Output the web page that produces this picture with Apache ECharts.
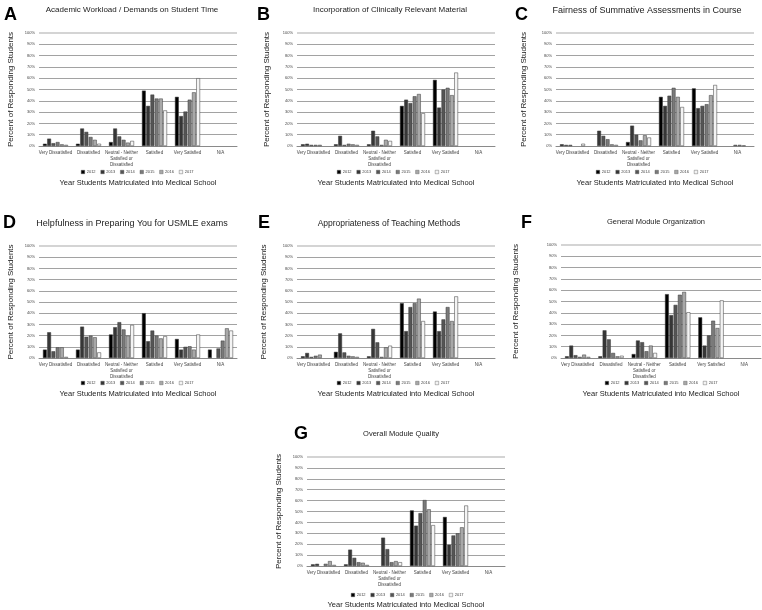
<!DOCTYPE html>
<html><head><meta charset="utf-8">
<script src="https://cdn.jsdelivr.net/npm/echarts@6/dist/echarts.min.js"></script>
<style>html,body{margin:0;padding:0;background:#fff}#c{width:762px;height:610px}</style>
</head><body><div id="c"></div>
<script>
const categories = ["Very Dissatisfied", "Dissatisfied", "Neutral - Neither\nSatisfied or\nDissatisfied", "Satisfied", "Very Satisfied", "N/A"];
const years = ["2012", "2013", "2014", "2015", "2016", "2017"];
const yTicks = [0, 10, 20, 30, 40, 50, 60, 70, 80, 90, 100];
const panelLetters = ["A", "B", "C", "D", "E", "F", "G"];
const panelTitles = [
  "Academic Workload / Demands on Student Time",
  "Incorporation of Clinically Relevant Material",
  "Fairness of Summative Assessments in Course",
  "Helpfulness in Preparing You for USMLE exams",
  "Appropriateness of Teaching Methods",
  "General Module Organization",
  "Overall Module Quality"
];
const yAxisTitle = "Percent of Responding Students";
const xAxisTitle = "Year Students Matriculated into Medical School";

// values per year (rows) across categories (columns), percent
const valuesA = [
  [2, 2, 3.5, 49, 43.5, 0],
  [6.5, 15.5, 15.5, 35.5, 26.5, 0],
  [2.5, 12.5, 8.5, 45.5, 30.5, 0],
  [3.5, 8, 5.5, 42, 41, 0],
  [1.5, 5.5, 3, 42, 47.5, 0],
  [1, 2, 4.5, 31.5, 60, 0]
];
const valuesB = [
  [1.5, 1.5, 1.5, 35.5, 58.5, 0],
  [2, 9, 13.5, 41, 34, 0],
  [1, 1, 8.5, 38, 50, 0],
  [1, 2, 1, 44, 51.5, 0],
  [1, 1.5, 5.5, 46, 45, 0],
  [0, 1, 4.5, 29, 65, 0]
];
const valuesC = [
  [1.5, 0, 3.5, 43.5, 51, 0],
  [1, 13.5, 18, 35.5, 33.5, 0],
  [1, 9, 10, 44.5, 35.5, 1],
  [0, 6, 5, 51.5, 37, 1],
  [0, 1.5, 9.5, 43.5, 45, 0.5],
  [2, 1, 7.5, 34.5, 54, 0]
];
const valuesD = [
  [7.5, 7.5, 21, 40, 17, 7.5],
  [23, 28, 27.5, 15, 7.5, 0],
  [6, 19, 32, 24.5, 10, 8.5],
  [9.5, 20, 25.5, 20, 10.5, 15.5],
  [9.5, 18.5, 20, 17.5, 7.5, 26.5],
  [1, 5, 29.5, 19.5, 21, 24.5]
];
const valuesE = [
  [1.5, 5.5, 1.5, 49, 41.5, 0],
  [4.5, 22, 26, 24, 24, 0],
  [1, 5, 14, 45.5, 34.5, 0],
  [2, 2, 1, 49, 45.5, 0],
  [3, 1.5, 9.5, 53, 33, 0],
  [0, 1, 11, 33, 55, 0]
];
const valuesF = [
  [1.5, 1.5, 3.5, 56.5, 36, 0],
  [11, 24.5, 15.5, 38, 11, 0],
  [2.5, 16.5, 14, 47, 20, 0],
  [1, 4.5, 6, 56, 33, 0],
  [3, 1.5, 11, 58.5, 26.5, 0],
  [1, 2, 4.5, 40.5, 51, 0]
];
const valuesG = [
  [1.5, 1.5, 0, 51, 45, 0],
  [2, 15, 26, 37, 19.5, 0],
  [0, 7.5, 15.5, 48.5, 28, 0],
  [2, 3.5, 3.5, 60.5, 30, 0],
  [4.5, 3, 4.5, 52, 35.5, 0],
  [1, 1, 3.5, 37.5, 55.5, 0]
];
const allValues = [valuesA, valuesB, valuesC, valuesD, valuesE, valuesF, valuesG];

// layout (pixels)
const layout = [
  {left: 39,  top: 33,  width: 198, height: 113, titleX: 132, titleY: 6,   titleSize: 8,   letterX: 4,   letterY: 6,   legendX: 133, legendY: 173, yGap: 24, xGap: 33},
  {left: 297, top: 33,  width: 198, height: 113, titleX: 390, titleY: 6,   titleSize: 8,   letterX: 257, letterY: 6,   legendX: 389, legendY: 173, yGap: 26, xGap: 33},
  {left: 556, top: 33,  width: 198, height: 113, titleX: 647, titleY: 6,   titleSize: 9,   letterX: 515, letterY: 6,   legendX: 648, legendY: 173, yGap: 28, xGap: 33},
  {left: 39,  top: 246, width: 198, height: 112, titleX: 132, titleY: 219, titleSize: 9,   letterX: 3,   letterY: 214, legendX: 133, legendY: 384, yGap: 24, xGap: 32},
  {left: 297, top: 246, width: 198, height: 112, titleX: 389, titleY: 219, titleSize: 8.5, letterX: 258, letterY: 214, legendX: 389, legendY: 384, yGap: 29, xGap: 32},
  {left: 561, top: 245, width: 200, height: 113, titleX: 656, titleY: 218, titleSize: 7.5, letterX: 521, letterY: 214, legendX: 657, legendY: 384, yGap: 41, xGap: 32},
  {left: 307, top: 457, width: 198, height: 112, titleX: 401, titleY: 430, titleSize: 7.5, letterX: 294, letterY: 425, legendX: 403, legendY: 596, yGap: 24, xGap: 35}
];

const colors = ["#000000", "#363636", "#555555", "#7a7a7a", "#a8a8a8", "#f4f4f4"];
const FONT = "Liberation Sans, Arial, sans-serif";

const grid = [], xAxis = [], yAxis = [], series = [], title = [], legend = [];
layout.forEach((L, i) => {
  grid.push({left: L.left, top: L.top, width: L.width, height: L.height, containLabel: false});
  xAxis.push({
    type: 'category', gridIndex: i, data: categories,
    name: xAxisTitle, nameLocation: 'middle', nameGap: L.xGap,
    nameTextStyle: {fontFamily: FONT, fontSize: 7.5, color: '#222'},
    axisLine: {lineStyle: {color: '#8a8a8a', width: 1}},
    axisTick: {show: false},
    axisLabel: {fontFamily: FONT, fontSize: 4.5, color: '#444', interval: 0, margin: 4, lineHeight: 6}
  });
  yAxis.push({
    type: 'value', gridIndex: i, min: 0, max: 100, interval: 10,
    name: yAxisTitle, nameLocation: 'middle', nameGap: L.yGap, nameRotate: 90,
    nameTextStyle: {fontFamily: FONT, fontSize: 8, color: '#222'},
    axisLine: {show: false}, axisTick: {show: false},
    splitLine: {lineStyle: {color: '#8a8a8a', width: 0.8}},
    axisLabel: {fontFamily: FONT, fontSize: 4, color: '#444', margin: 4,
      formatter: v => yTicks.includes(v) ? v + '%' : ''}
  });
  title.push({text: panelLetters[i], left: L.letterX, top: L.letterY,
    textStyle: {fontFamily: FONT, fontSize: 18, fontWeight: 'bold', color: '#000'}, padding: 0});
  title.push({text: panelTitles[i], left: L.titleX, top: L.titleY, textAlign: 'center',
    textStyle: {fontFamily: FONT, fontSize: L.titleSize, fontWeight: 'normal', color: '#222'}, padding: 0});
  legend.push({
    data: years, left: L.legendX - 52, top: L.legendY - 3,
    orient: 'horizontal', itemWidth: 3.5, itemHeight: 3.5, itemGap: 5, padding: 0,
    icon: 'rect', selectedMode: false,
    textStyle: {fontFamily: FONT, fontSize: 4, color: '#444', padding: [0, 0, 0, -3]},
    itemStyle: {borderColor: '#555', borderWidth: 0.4}
  });
  allValues[i].forEach((vals, k) => {
    const s = {
      type: 'bar', name: years[k], xAxisIndex: i, yAxisIndex: i,
      data: vals.map(v => v === 0 ? {value: 0, itemStyle: {borderWidth: 0}} : v),
      barCategoryGap: '24%', barGap: '12%',
      itemStyle: {color: colors[k], borderColor: '#3a3a3a', borderWidth: 0.5},
      silent: true, animation: false
    };
    if (k === 0) {
      s.markLine = {silent: true, symbol: 'none', label: {show: false},
        lineStyle: {color: '#d4d4d4', width: 2, type: 'solid'}, data: [{yAxis: 100}], animation: false};
    }
    series.push(s);
  });
});

const chart = echarts.init(document.getElementById('c'), null, {renderer: 'canvas'});
chart.setOption({animation: false, backgroundColor: '#fff', title, legend, grid, xAxis, yAxis, series});
</script></body></html>
